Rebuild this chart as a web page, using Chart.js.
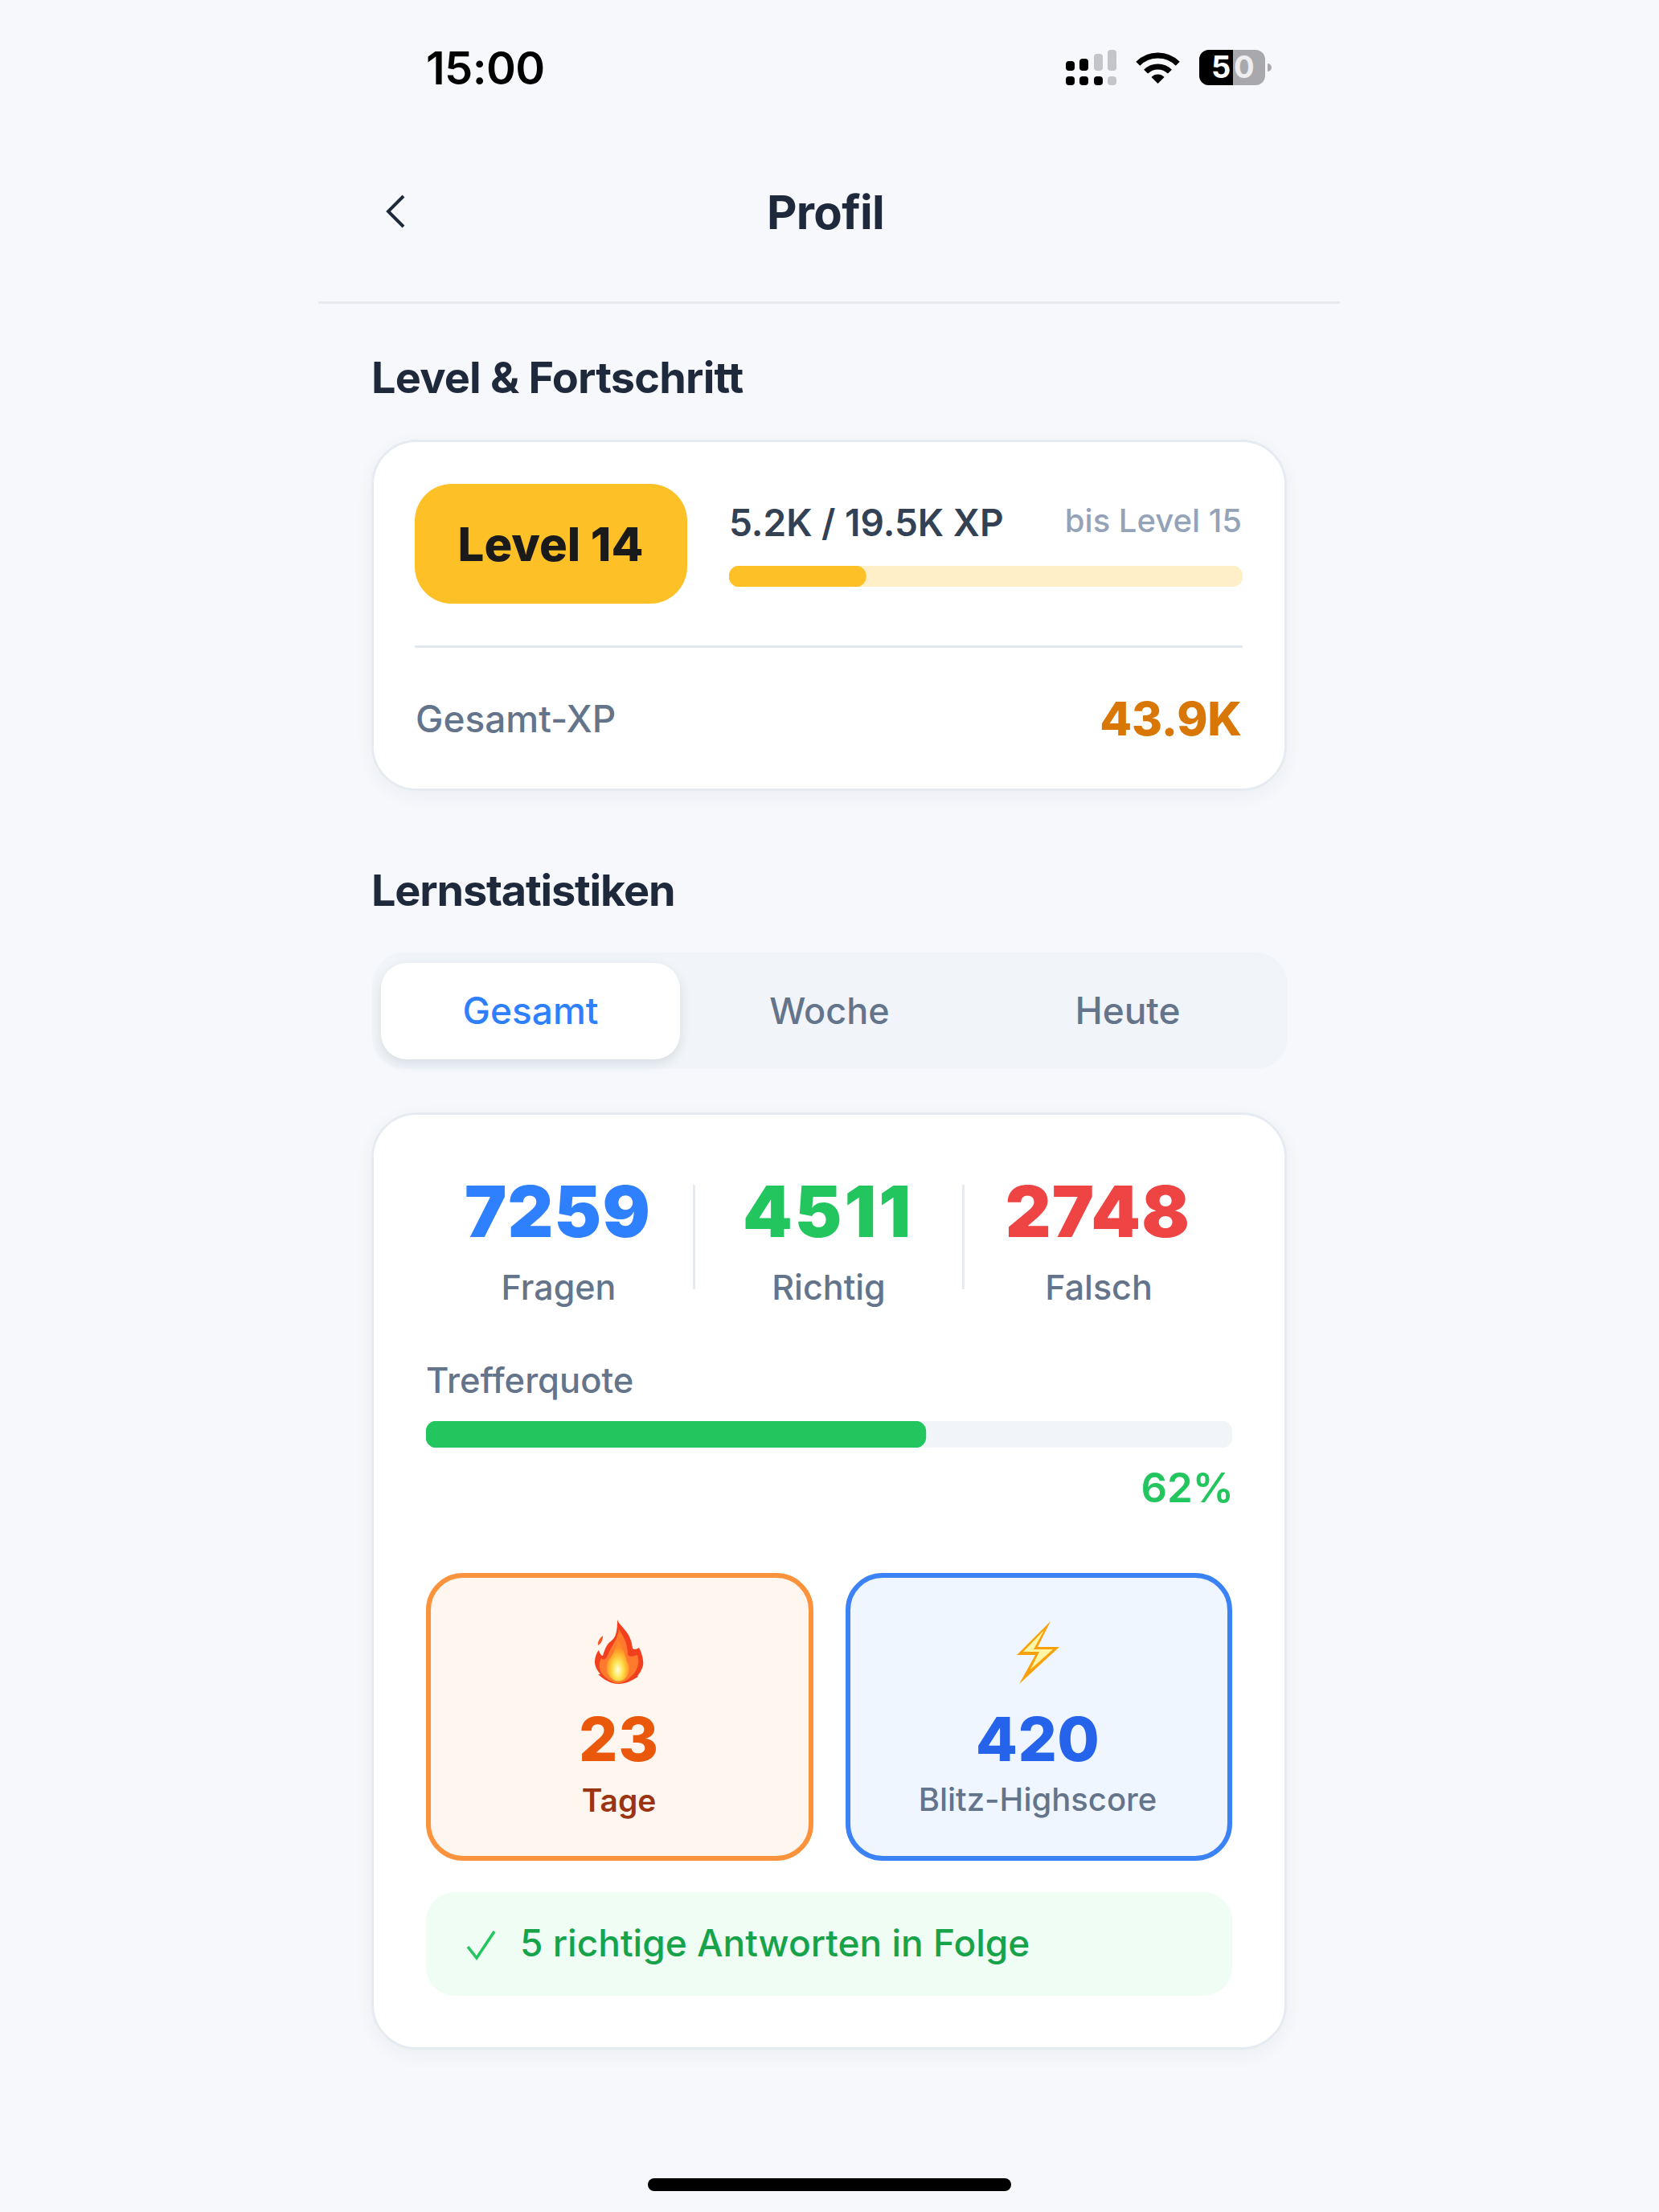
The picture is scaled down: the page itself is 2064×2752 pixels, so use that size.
<!DOCTYPE html>
<html lang="de">
<head>
<meta charset="utf-8">
<title>Profil</title>
<script src="https://cdn.jsdelivr.net/npm/chart.js@4"></script>
<style>
  html, body { margin: 0; padding: 0; }
  body { position: relative; width: 2064px; height: 2752px; overflow: hidden; background: #f6f8fc; font-family: Inter, sans-serif; }
  .box, .txt, svg, canvas { position: absolute; display: block; }
  .box { box-sizing: border-box; }
  .txt { white-space: nowrap; line-height: 0; }
  .card { left: 462px; width: 1139px; background: #fff; border: 3px solid #e6ebf2; border-radius: 56px; box-shadow: 0 6px 22px rgba(30, 41, 59, .05); }
  #card1 { top: 547px; height: 437px; }
  #card2 { top: 1384px; height: 1166px; }
  #headerLine { left: 396px; top: 375px; width: 1271px; height: 3px; background: #e8ebf0; }
  #badge { left: 516px; top: 602px; width: 339px; height: 149px; background: #fdc026; border-radius: 46px; }
  #xpLine { left: 516px; top: 803px; width: 1030px; height: 3px; background: #e2e8f0; }
  #tabs { left: 463px; top: 1185px; width: 1139px; height: 145px; background: #f1f5f9; border-radius: 40px; }
  #tabActive { left: 474px; top: 1198px; width: 372px; height: 120px; background: #fff; border-radius: 32px; box-shadow: 0 5px 14px rgba(30, 41, 59, .12); }
  .vline { top: 1474px; width: 3px; height: 130px; background: #e6ebf2; }
  .tile { top: 1957px; height: 358px; border-radius: 46px; border-width: 6px; border-style: solid; }
  #tileStreak { left: 530px; width: 482px; background: #fff7ef; border-color: #fb923c; }
  #tileBlitz { left: 1052px; width: 481px; background: #eff6ff; border-color: #3b82f6; }
  #streakBanner { left: 530px; top: 2354px; width: 1003px; height: 129px; background: #f0fdf4; border-radius: 36px; }
  #homeBar { left: 806px; top: 2710px; width: 452px; height: 16px; background: #000; border-radius: 8px; }
</style>
</head>
<body>
<div class="box" id="headerLine"></div>
<div class="box card" id="card1"></div>
<div class="box" id="badge"></div>
<div class="box" id="xpLine"></div>
<div class="box" id="tabs"></div>
<div class="box" id="tabActive"></div>
<div class="box card" id="card2"></div>
<div class="box vline" style="left:862px"></div>
<div class="box vline" style="left:1197px"></div>
<div class="box tile" id="tileStreak"></div>
<div class="box tile" id="tileBlitz"></div>
<div class="box" id="streakBanner"></div>
<div class="box" id="homeBar"></div>

<canvas id="xpChart" style="left:907px;top:704px" width="639" height="26"></canvas>
<canvas id="hitChart" style="left:530px;top:1768px" width="1003" height="33"></canvas>

<!-- signal -->
<svg style="left:1326px;top:62px" width="63" height="44" viewBox="0 0 63 44">
  <rect x="0" y="14" width="11" height="12" rx="4"/><rect x="17" y="11" width="11" height="15" rx="4"/>
  <rect x="35" y="5" width="11" height="21" rx="4" fill="#c3c5c9"/><rect x="52" y="0" width="11" height="26" rx="4" fill="#c3c5c9"/>
  <rect x="0" y="33" width="11" height="11" rx="4"/><rect x="17" y="33" width="11" height="11" rx="4"/>
  <rect x="35" y="33" width="11" height="11" rx="4"/><rect x="52" y="33" width="11" height="11" rx="4" fill="#c3c5c9"/>
</svg>
<!-- wifi -->
<svg style="left:1413px;top:65px" width="55" height="40" viewBox="0 0 55 40" fill="none" stroke="#000" stroke-width="7">
  <path d="M2.8 14.3A35 35 0 0 1 52.2 14.3"/>
  <path d="M12.6 24.1A21 21 0 0 1 42.4 24.1"/>
  <path d="M27.5 39L19.5 31A11 11 0 0 1 35.5 31Z" fill="#000" stroke="none"/>
</svg>
<!-- battery -->
<svg style="left:1492px;top:62px" width="92" height="44" viewBox="0 0 92 44">
  <rect x="0" y="0" width="82" height="44" rx="12" fill="#a9a9ad"/>
  <path d="M12 0H42V44H12A12 12 0 0 1 0 32V12A12 12 0 0 1 12 0Z" fill="#000"/>
  <path d="M85 17A5 5 0 0 1 85 27Z" fill="#a9a9ad"/>
</svg>
<!-- back -->
<svg style="left:476px;top:240px" width="32" height="46" viewBox="0 0 32 46" fill="none" stroke="#1e293b" stroke-width="4">
  <path d="M26 4L7 23L26 42"/>
</svg>
<!-- flame -->
<svg style="left:740px;top:2013px" width="61" height="82" viewBox="0 -4 61 82">
  <defs>
    <radialGradient id="flameCore" cx=".5" cy=".72" r=".55">
      <stop offset="0" stop-color="#fffde8"/><stop offset=".35" stop-color="#ffe95c"/><stop offset=".7" stop-color="#ffb52e"/><stop offset="1" stop-color="#ff8a2a"/>
    </radialGradient>
  </defs>
  <path d="M28 -2C30 6 45 12 47 34C50 36 53 34 55 33C59 40 61 50 60 55C58 62 55 66 53 68L54 69C46 74 38 78 30 78C20 78 12 73 4 66L7 66C2 60 0 55 0 51C0 44 3 38 5 36C6 40 8 43 10 43C12 36 15 28 20 25C26 20 28 14 28 -2Z" fill="#f2401f"/>
  <path d="M4 30C3 26 6 21 10 18C10 23 8 28 4 30Z" fill="#f4562a"/>
  <path d="M30 10C33 16 41 24 41 42C46 46 50 42 53 42C56 50 54 60 46 68C40 74 34 77 30 77C22 77 14 72 8 64C5 58 5 52 8 46C12 50 15 46 17 40C20 32 28 24 30 10Z" fill="#ff7a2c"/>
  <path d="M29 24C33 32 38 40 40 50C44 56 44 64 38 71C34 75 27 76 22 72C15 67 13 58 16 50C20 46 26 36 29 24Z" fill="url(#flameCore)"/>
</svg>
<!-- bolt -->
<svg style="left:1265px;top:2017px" width="53" height="78" viewBox="0 0 53 78">
  <path d="M42 0L0 42L23 42L3 78L53 32L26 32Z" fill="#f9a10a"/>
  <path d="M34 11L8 38L28 38L17 60L45 35L21 35Z" fill="#fff6a6"/>
</svg>
<!-- check -->
<svg style="left:578px;top:2400px" width="42" height="40" viewBox="0 0 42 40" fill="none" stroke="#22c55e" stroke-width="3.6">
  <path d="M4 22L15 36L37 3"/>
</svg>

<script>
// values
const currentXp = 5.2;
const nextLevelXp = 19.5;
const totalXp = '43.9K';
const level = 14;
const tabNames = ['Gesamt', 'Woche', 'Heute'];
const statLabels = ['Fragen', 'Richtig', 'Falsch'];
const statValues = [7259, 4511, 2748];
const hitRate = 62;
const streakDays = 23;
const blitzScore = 420;
const rightInRow = 5;

function addText(str, x, baseline, size, weight, color, align, spacing) {
    const el = document.createElement('div');
    el.className = 'txt';
    el.textContent = str;
    el.style.top = (baseline - size * 0.364) + 'px';
    el.style.fontSize = size + 'px';
    el.style.fontWeight = weight;
    el.style.color = color;
    if (spacing) el.style.letterSpacing = spacing + 'px';
    if (align === 'center') {
        el.style.left = x + 'px';
        el.style.transform = 'translateX(-50%)';
    } else if (align === 'right') {
        el.style.right = (2064 - x) + 'px';
    } else {
        el.style.left = x + 'px';
    }
    document.body.appendChild(el);
}

// status bar + header
addText('15:00', 530, 105, 56, 600, '#000', 'left', -0.6);
addText('5', 1507, 97, 38, 700, '#fff');
addText('0', 1535, 97, 38, 700, '#eeeef0');
addText('Profil', 1027, 285, 58, 700, '#1e293b', 'center', -0.7);

// level card
addText('Level & Fortschritt', 462, 490, 54, 700, '#1e293b', 'left', -0.8);
addText('Level ' + level, 685, 698, 58, 800, '#1a1a1a', 'center');
addText(currentXp + 'K / ' + nextLevelXp + 'K XP', 907, 667, 46, 600, '#334155');
addText('bis Level ' + (level + 1), 1545, 663, 40, 500, '#94a3b8', 'right');
addText('Gesamt-XP', 517, 911, 46, 500, '#64748b');
addText(totalXp, 1545, 915, 58, 800, '#d97706', 'right', -0.2);

// stats
addText('Lernstatistiken', 462, 1128, 54, 700, '#1e293b', 'left', -1.2);
const tabCenters = [660, 1032, 1403];
tabNames.forEach((t, i) => addText(t, tabCenters[i], 1274, i === 1 ? 45 : 46, 500, i === 0 ? '#2f80ff' : '#64748b', 'center'));

const statCenters = [694, 1030, 1366];
const statLabelCenters = [695, 1031, 1367];
const statColors = ['#2f80ff', '#22c55e', '#ef4444'];
const statSpacing = [1.2, 3, 1.2];
statValues.forEach((v, i) => {
    addText(String(v), statCenters[i], 1539, 88, 900, statColors[i], 'center', statSpacing[i]);
    addText(statLabels[i], statLabelCenters[i], 1617, 43, 500, '#64748b', 'center');
});

addText('Trefferquote', 530, 1733, 43.5, 500, '#64748b');
addText(hitRate + '%', 1535, 1870, 51, 600, '#22c55e', 'right');

addText(String(streakDays), 770, 2191, 76, 800, '#ea580c', 'center', 0.8);
addText('Tage', 770, 2254, 39, 600, '#9a3412', 'center');
addText(String(blitzScore), 1291, 2191, 76, 800, '#2563eb', 'center', 0.4);
addText('Blitz-Highscore', 1291, 2254, 40, 500, '#64748b', 'center');
addText(rightInRow + ' richtige Antworten in Folge', 647, 2434, 46, 500, '#16a34a');

// progress bars are one horizontal bar on top of its track
function progressBar(id, value, max, fillColor, trackColor) {
    new Chart(document.getElementById(id), {
        type: 'bar',
        data: {
            labels: [''],
            datasets: [
                { data: [value], backgroundColor: fillColor, order: 1 },
                { data: [max], backgroundColor: trackColor, order: 2 }
            ]
        },
        options: {
            indexAxis: 'y',
            responsive: false,
            animation: false,
            devicePixelRatio: 1,
            layout: { padding: 0 },
            datasets: { bar: { grouped: false, barPercentage: 1, categoryPercentage: 1, borderRadius: 13, borderSkipped: false } },
            plugins: { legend: { display: false }, tooltip: { enabled: false } },
            scales: {
                x: { display: false, min: 0, max: max },
                y: { display: false }
            }
        }
    });
}

progressBar('xpChart', currentXp, nextLevelXp, '#fdc026', '#feefc9');
progressBar('hitChart', hitRate, 100, '#22c55e', '#f1f5f9');
</script>
</body>
</html>
